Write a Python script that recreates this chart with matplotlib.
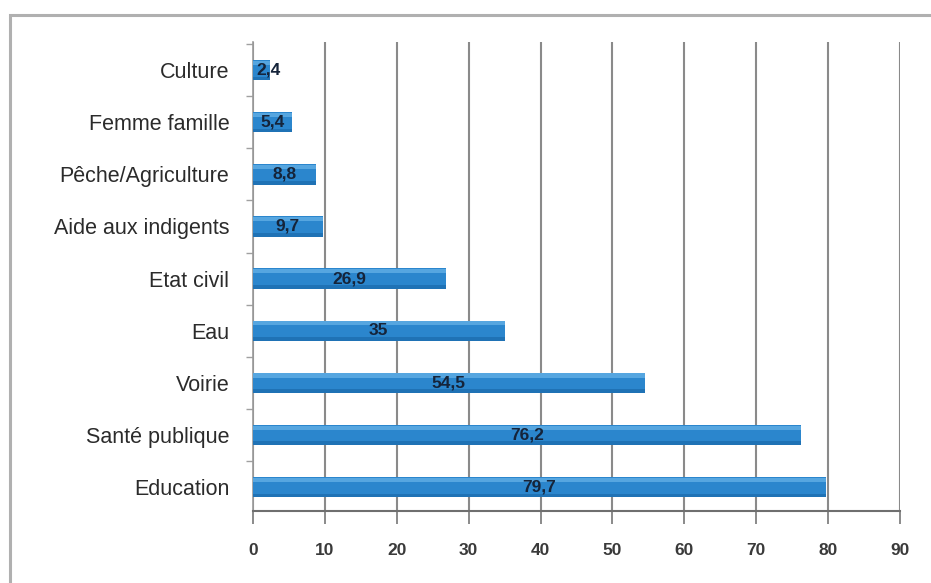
import matplotlib
matplotlib.use("Agg")
import matplotlib.pyplot as plt
from matplotlib.patches import Rectangle
from matplotlib.ticker import FixedLocator

categories = ["Education", "Santé publique", "Voirie", "Eau", "Etat civil",
              "Aide aux indigents", "Pêche/Agriculture", "Femme famille", "Culture"]
values = [79.7, 76.2, 54.5, 35, 26.9, 9.7, 8.8, 5.4, 2.4]
value_labels = ["79,7", "76,2", "54,5", "35", "26,9", "9,7", "8,8", "5,4", "2,4"]
xticks = [0, 10, 20, 30, 40, 50, 60, 70, 80, 90]

plt.rcParams['font.family'] = ['Liberation Sans', 'DejaVu Sans']

fig = plt.figure(figsize=(9.31, 5.83), dpi=100)
fig.patch.set_facecolor("white")
# outer frame
fig.add_artist(Rectangle((10/931, -0.1), 1.0, 1 - 15/583 + 0.1, transform=fig.transFigure,
                         fill=False, edgecolor="#b0b0b0", linewidth=2.2))

ax = fig.add_axes([253/931, 1 - 511/583, (900 - 253)/931, (511 - 42)/583])
y = list(range(len(categories)))
ax.barh(y, values, height=0.39, color="#2b86cd", zorder=3, linewidth=0)
# soft highlight at the top edge and darker bottom edge to mimic the gradient
ax.barh([v + 0.14 for v in y], values, height=0.08, color="#56a6e0", zorder=4, linewidth=0)
ax.barh([v - 0.16 for v in y], values, height=0.07, color="#1f72b5", zorder=4, linewidth=0)

for yi, v, lab in zip(y, values, value_labels):
    xpos = v / 2 if v > 5 else v / 2 + 1.0
    ax.text(xpos, yi, lab, ha="center", va="center", fontsize=12.5,
            color="#15243a", fontweight="bold", zorder=5)

ax.set_xlim(0, 90)
ax.set_ylim(-0.46, 8.54)
ax.set_xticks(xticks)
ax.set_xticklabels([str(t) for t in xticks], fontsize=12.5, color="#3a3a3a",
                   fontweight="bold")
ax.set_yticks(y)
ax.set_yticklabels(categories, fontsize=15.5, color="#2b2b2b")
ax.tick_params(axis="y", length=0, pad=17)
ax.yaxis.set_minor_locator(FixedLocator([i + 0.5 for i in range(-1, 9)]))
ax.tick_params(axis="y", which="minor", length=5, color="#a0a0a0", width=1)
ax.tick_params(axis="x", length=9, color="#777777", width=1.2, pad=14)

ax.grid(axis="x", color="#8a8a8a", linewidth=1.5, zorder=0)
for s in ["top", "right"]:
    ax.spines[s].set_visible(False)
ax.spines["left"].set_color("#9a9a9a")
ax.spines["left"].set_linewidth(1.2)
ax.spines["bottom"].set_color("#6f6f6f")
ax.spines["bottom"].set_linewidth(1.5)

fig.savefig("out.png", dpi=100)
